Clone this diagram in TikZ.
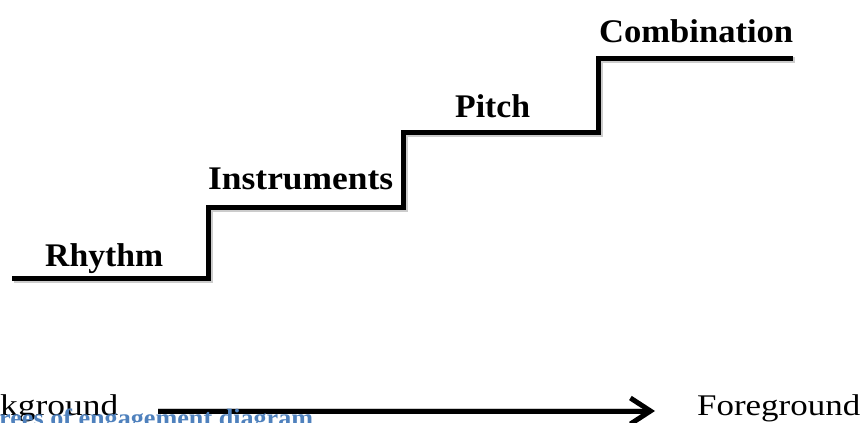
\documentclass[tikz,border=0pt]{standalone}
\usepackage{fontspec}
\usepackage{graphicx}
\setmainfont{Liberation Serif}
\usetikzlibrary{arrows.meta}
\definecolor{capblue}{HTML}{4F81BD}
\newcommand{\fitw}[2]{\resizebox{#1}{\height}{#2}}
\tikzset{
  stairline/.style={line width=5pt, line cap=butt, line join=miter},
  stairshadow/.style={line width=6pt, draw=black!20, line join=miter},
  steplabel/.style={anchor=base west, inner sep=0pt, font=\fontsize{33}{36}\selectfont\bfseries},
  endlabel/.style={anchor=base west, inner sep=0pt, font=\fontsize{30}{34}\selectfont},
  caplabel/.style={anchor=base west, inner sep=0pt, text=capblue, font=\fontsize{25}{28}\selectfont\bfseries},
  flowarrow/.style={line width=5pt, -{Straight Barb[length=20pt, width=26pt, line width=5pt]}},
}
\begin{document}
\begin{tikzpicture}[x=1pt,y=-1pt]
\useasboundingbox (0,0) rectangle (865,423);
\fill[white] (0,0) rectangle (865,423);
% staircase shadow
\draw[stairshadow, shift={(2,2)}] (12,278) -- (208,278) -- (208,207) -- (403,207) -- (403,132) -- (598,132) -- (598,58) -- (793,58);
% staircase
\draw[stairline] (12,278) -- (208,278) -- (208,207) -- (403,207) -- (403,132) -- (598,132) -- (598,58) -- (793,58);
% step labels
\node[steplabel] (rhythm) at (45,266) {\fitw{118pt}{Rhythm}};
\node[steplabel] (instr) at (208,189) {\fitw{185pt}{Instruments}};
\node[steplabel] (pitch) at (455,117) {\fitw{75pt}{Pitch}};
\node[steplabel] (comb) at (599,42) {\fitw{194pt}{Combination}};
% bottom axis
\node[endlabel] (bg) at (0,415) {\fitw{118pt}{kground}};
\node[endlabel] (fg) at (697,415) {\fitw{163pt}{Foreground}};
\coordinate (astart) at (158,411);
\coordinate (aend) at (655,411);
\draw[black!20, line width=6pt, shift={(1.5,2)}] (astart) -- ([xshift=-14pt]aend);
\draw[flowarrow] (astart) -- (aend);
% caption (cut off by the page edge)
\node[caplabel] (cap) at (-1,426) {\fitw{314pt}{rees of engagement diagram}};
\end{tikzpicture}
\end{document}
